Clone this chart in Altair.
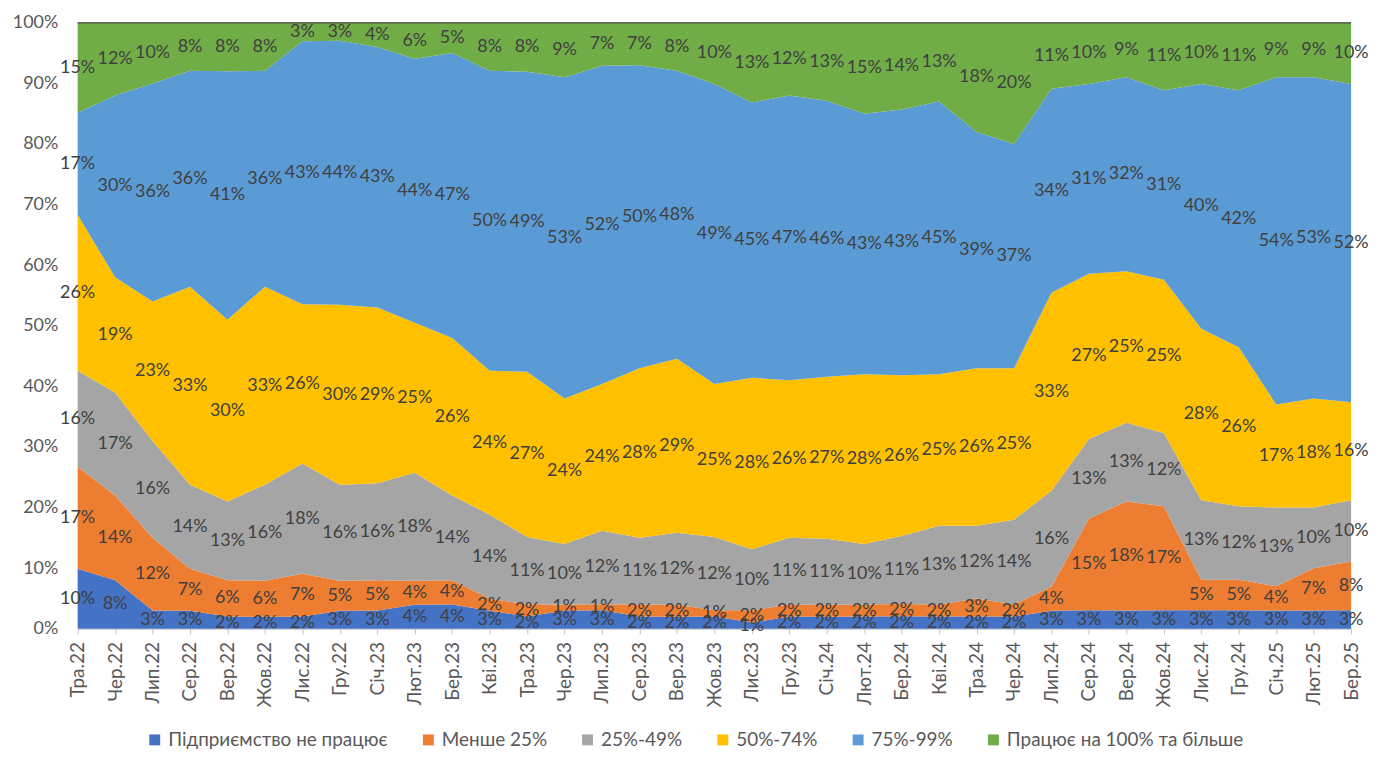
import altair as alt
import pandas as pd

months = ["Тра.22", "Чер.22", "Лип.22", "Сер.22", "Вер.22", "Жов.22", "Лис.22", "Гру.22",
          "Січ.23", "Лют.23", "Бер.23", "Кві.23", "Тра.23", "Чер.23", "Лип.23", "Сер.23",
          "Вер.23", "Жов.23", "Лис.23", "Гру.23", "Січ.24", "Лют.24", "Бер.24", "Кві.24",
          "Тра.24", "Чер.24", "Лип.24", "Сер.24", "Вер.24", "Жов.24", "Лис.24", "Гру.24",
          "Січ.25", "Лют.25", "Бер.25"]

series_names = ["Підприємство не працює", "Менше 25%", "25%-49%", "50%-74%", "75%-99%",
                "Працює на 100% та більше"]
colors = ["#4472C4", "#ED7D31", "#A5A5A5", "#FFC000", "#5B9BD5", "#70AD47"]

not_working = [10, 8, 3, 3, 2, 2, 2, 3, 3, 4, 4, 3, 2, 3, 3, 2, 2, 2, 1, 2, 2, 2, 2, 2,
               2, 2, 3, 3, 3, 3, 3, 3, 3, 3, 3]
less_25 = [17, 14, 12, 7, 6, 6, 7, 5, 5, 4, 4, 2, 2, 1, 1, 2, 2, 1, 2, 2, 2, 2, 2, 2,
           3, 2, 4, 15, 18, 17, 5, 5, 4, 7, 8]
p25_49 = [16, 17, 16, 14, 13, 16, 18, 16, 16, 18, 14, 14, 11, 10, 12, 11, 12, 12, 10, 11, 11, 10, 11, 13,
          12, 14, 16, 13, 13, 12, 13, 12, 13, 10, 10]
p50_74 = [26, 19, 23, 33, 30, 33, 26, 30, 29, 25, 26, 24, 27, 24, 24, 28, 29, 25, 28, 26, 27, 28, 26, 25,
          26, 25, 33, 27, 25, 25, 28, 26, 17, 18, 16]
p75_99 = [17, 30, 36, 36, 41, 36, 43, 44, 43, 44, 47, 50, 49, 53, 52, 50, 48, 49, 45, 47, 46, 43, 43, 45,
          39, 37, 34, 31, 32, 31, 40, 42, 54, 53, 52]
p100 = [15, 12, 10, 8, 8, 8, 3, 3, 4, 6, 5, 8, 8, 9, 7, 7, 8, 10, 13, 12, 13, 15, 14, 13,
        18, 20, 11, 10, 9, 11, 10, 11, 9, 9, 10]

all_series = [not_working, less_25, p25_49, p50_74, p75_99, p100]

rows = []
for k, (name, vals) in enumerate(zip(series_names, all_series)):
    for i, v in enumerate(vals):
        rows.append({"i": i, "m": months[i], "s": name, "k": k, "v": v})
df = pd.DataFrame(rows)

FONT = "Lato"

base = alt.Chart(df).transform_stack(
    stack="v", groupby=["i"], sort=[alt.SortField("k", order="ascending")],
    as_=["y0", "y1"], offset="normalize"
)

x_enc = alt.X(
    "m:O", sort=months,
    scale=alt.Scale(type="point", padding=0),
    axis=alt.Axis(labelAngle=-90, grid=False, title=None, tickSize=5, tickColor="#BFBFBF",
                  domainColor="#BFBFBF", labelFont=FONT, labelFontSize=19,
                  labelColor="#595959", labelPadding=8, labelOverlap=False,
                  labelLimit=200),
)

area = base.mark_area(opacity=1).encode(
    x=x_enc,
    y=alt.Y("y0:Q", scale=alt.Scale(domain=[0, 1], nice=False),
            axis=alt.Axis(values=[i / 10 for i in range(11)], format=".0%", grid=False,
                          ticks=False, domain=False, title=None, labelFont=FONT,
                          labelFontSize=18, labelColor="#595959", labelPadding=20)),
    y2="y1:Q",
    color=alt.Color("s:N", sort=series_names,
                    scale=alt.Scale(domain=series_names, range=colors),
                    legend=alt.Legend(title=None, orient="none", direction="horizontal",
                                      legendX=68, legendY=711, symbolType="square",
                                      symbolSize=120, symbolStrokeWidth=0,
                                      labelFont=FONT, labelFontSize=19, labelLimit=400,
                                      labelColor="#595959", columnPadding=31,
                                      labelOffset=4, columns=6)),
    order=alt.Order("k:Q"),
)

labels = base.transform_calculate(
    mid="(datum.y0 + datum.y1) / 2", lbl="datum.v + '%'"
).mark_text(font=FONT, fontSize=18, color="#404040").encode(
    x=alt.X("m:O", sort=months), y="mid:Q", text="lbl:N"
)

top = alt.Chart(pd.DataFrame({"t": [1.0]})).mark_rule(color="#262626", strokeWidth=1).encode(
    y="t:Q"
)

chart = alt.layer(area, top, labels).properties(
    width=1280, height=609,
    autosize=alt.AutoSizeParams(type="none"),
    padding={"left": 70, "top": 13, "right": 20, "bottom": 120},
).configure_view(stroke=None)

chart.save("out.html", embed_options={"renderer": "svg", "actions": False})
